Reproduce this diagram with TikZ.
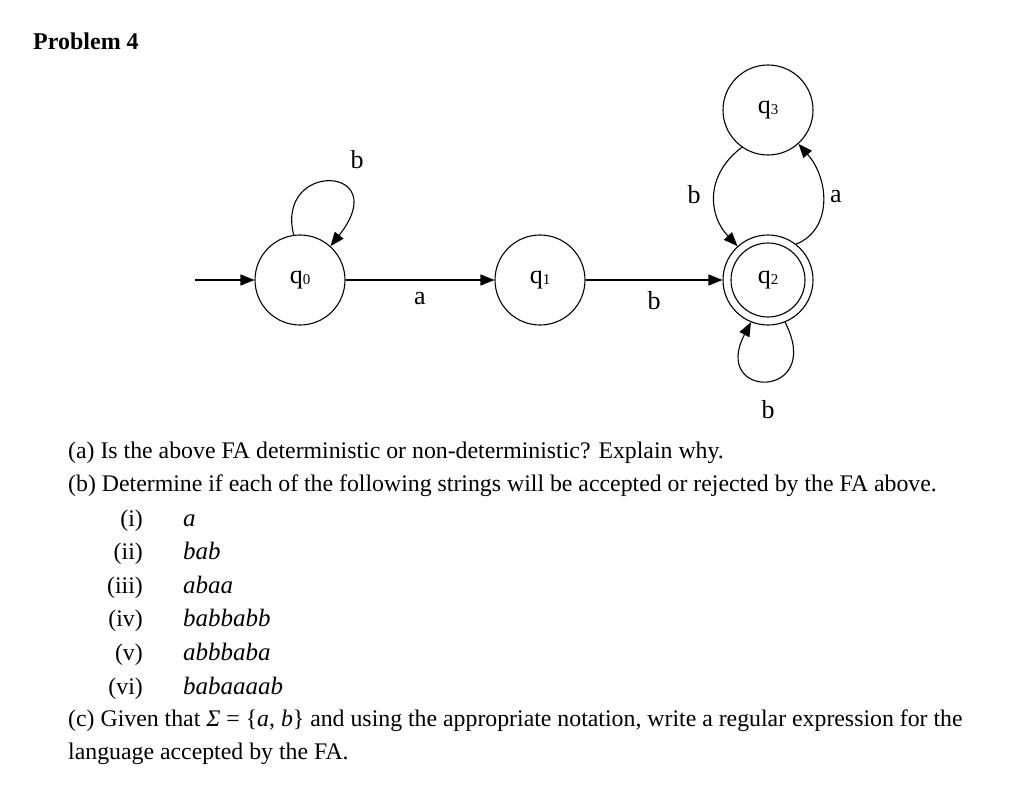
\documentclass[tikz,border=0pt]{standalone}
\usepackage{fontspec}
\setmainfont{Liberation Serif}
\usetikzlibrary{arrows.meta}
\begin{document}
\begin{tikzpicture}[x=1pt,y=-1pt,
  st/.style={draw,circle,line width=1.1pt,minimum size=90pt,inner sep=0pt,font=\fontsize{26}{26}\selectfont},
  lab/.style={font=\fontsize{26}{26}\selectfont},
  txt/.style={anchor=base west,font=\fontsize{23.8}{24}\selectfont,inner sep=0pt},
  itm/.style={anchor=base west,font=\fontsize{25}{25}\selectfont\itshape,inner sep=0pt},
  num/.style={anchor=base east,font=\fontsize{23.8}{24}\selectfont,inner sep=0pt},
  ed/.style={-{Triangle[length=14pt,width=11pt]},line width=1.1pt}]
\useasboundingbox (0,0) rectangle (1022,797);
\node[anchor=base west,inner sep=0pt,font=\fontsize{24}{24}\selectfont\bfseries] (title) at (33,50) {Problem 4};
\node[st] (q0) at (300,280) {q\raisebox{-1pt}{\fontsize{15}{15}\selectfont 0}};
\node[st] (q1) at (540,280) {q\raisebox{-1pt}{\fontsize{15}{15}\selectfont 1}};
\node[st] (q2) at (768,280) {q\raisebox{-1pt}{\fontsize{15}{15}\selectfont 2}};
\node[draw,circle,line width=1.1pt,minimum size=74pt] (q2i) at (768,280) {};
\node[st] (q3) at (768,110) {q\raisebox{-1pt}{\fontsize{15}{15}\selectfont 3}};
\coordinate (s) at (195,280);
\draw[ed] (s) -- (q0);
\draw[ed] (q0) -- node[lab,below=8pt]{a} (q1);
\draw[ed] (q1) -- node[lab,below=8pt]{b} (q2);
\draw[ed] (q0.98) .. controls (275,160) and (395,165) .. (q0.48);
\node[lab] (lb0) at (357,160) {b};
\draw[ed] (q3.235) .. controls (705,175) and (708,215) .. (q2.132);
\node[lab] (lb3) at (694,195) {b};
\draw[ed] (q2.52) .. controls (832,230) and (830,180) .. (q3.-48);
\node[lab] (la3) at (836,197) {a};
\draw[ed] (q2.-68) .. controls (825,400) and (710,400) .. (q2.-112);
\node[lab] (lb2) at (768,410) {b};
\node[txt] (ta) at (68,458) {(a) Is the above FA deterministic or non-deterministic? Explain why.};
\node[txt] (tb) at (68,491) {(b) Determine if each of the following strings will be accepted or rejected by the FA above.};
\node[num] (n1) at (143,526) {(i)};   \node[itm] (s1) at (183,526) {a};
\node[num] (n2) at (143,559) {(ii)};  \node[itm] (s2) at (183,559) {bab};
\node[num] (n3) at (143,593) {(iii)}; \node[itm] (s3) at (183,593) {abaa};
\node[num] (n4) at (143,626) {(iv)};  \node[itm] (s4) at (183,626) {babbabb};
\node[num] (n5) at (143,660) {(v)};   \node[itm] (s5) at (183,660) {abbbaba};
\node[num] (n6) at (143,694) {(vi)};  \node[itm] (s6) at (183,694) {babaaaab};
\node[txt] (tc) at (68,726) {(c) Given that \textit{Σ} = \{\textit{a}, \textit{b}\} and using the appropriate notation, write a regular expression for the};
\node[txt] (tc2) at (68,759) {language accepted by the FA.};
\end{tikzpicture}
\end{document}
